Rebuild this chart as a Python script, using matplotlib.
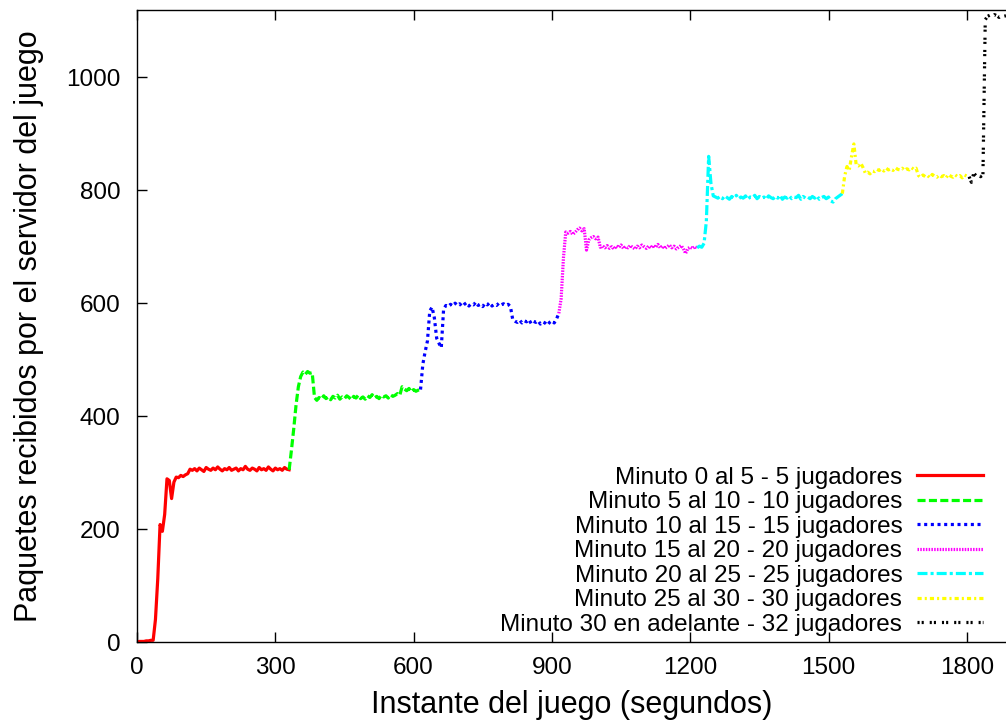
import numpy as np
import matplotlib
matplotlib.use("Agg")
import matplotlib.pyplot as plt

plt.rcParams['font.family'] = ['Liberation Sans', 'DejaVu Sans']
plt.rcParams['lines.scale_dashes'] = False

step = 5  # seconds between samples

# paquetes recibidos, one array per interval (start time, values every 5 s)
start_0_5 = 0
pkts_0_5 = [0, 1, 1, 1, 2, 2, 3, 3, 40, 112,
            208, 196, 226, 289, 286, 254, 283, 292, 291, 295,
            293, 296, 298, 306, 304, 307, 303, 308, 305, 302,
            309, 306, 304, 308, 305, 310, 306, 303, 307, 305,
            309, 304, 306, 308, 303, 307, 305, 311, 306, 304,
            308, 306, 303, 309, 305, 307, 304, 310, 306, 303,
            308, 305, 307, 304, 309, 306, 305]

start_5_10 = 330
pkts_5_10 = [305, 340, 378, 420, 452, 470, 478, 474, 479, 476,
             477, 433, 428, 433, 430, 436, 431, 434, 429, 435,
             432, 437, 430, 434, 431, 436, 433, 429, 435, 432,
             437, 431, 434, 430, 436, 433, 438, 432, 435, 431,
             437, 434, 436, 432, 438, 435, 437, 440, 437, 452,
             448, 445, 449, 443, 447, 444, 446, 447]

start_10_15 = 615
pkts_10_15 = [447, 492, 514, 533, 586, 593, 574, 538, 529, 521,
              589, 596, 594, 598, 595, 600, 596, 599, 594, 598,
              601, 595, 599, 597, 602, 596, 598, 594, 600, 597,
              601, 595, 598, 596, 600, 597, 599, 596, 598, 594,
              571, 568, 566, 570, 565, 569, 567, 571, 564, 568,
              566, 569, 563, 567, 565, 561, 566, 569, 565, 572,
              582]

start_15_20 = 915
pkts_15_20 = [582, 608, 680, 726, 724, 727, 722, 725, 730, 733,
              728, 732, 694, 712, 716, 718, 714, 717, 699, 701,
              698, 702, 697, 700, 696, 701, 699, 703, 697, 700,
              698, 702, 699, 696, 701, 698, 703, 700, 697, 701,
              698, 702, 699, 704, 698, 701, 697, 700, 703, 698,
              701, 696, 699, 702, 697, 688, 697, 699, 697, 700,
              698]

start_20_25 = 1215
pkts_20_25 = [698, 701, 699, 706, 745, 860, 812, 790, 788, 786,
              789, 785, 790, 787, 784, 789, 786, 791, 785, 788,
              786, 790, 784, 788, 787, 791, 785, 789, 786, 788,
              784, 790, 787, 785, 789, 786, 791, 784, 788, 786,
              790, 785, 788, 787, 791, 784, 789, 786, 788, 785,
              789, 786, 790, 784, 787, 789, 785, 788, 781, 779,
              785, 788, 791, 794]

start_25_30 = 1530
pkts_25_30 = [794, 825, 842, 836, 860, 882, 845, 843, 848, 840,
              830, 832, 829, 834, 833, 837, 835, 838, 834, 839,
              836, 838, 835, 840, 837, 836, 839, 835, 838, 836,
              840, 837, 839, 826, 823, 827, 824, 826, 822, 828,
              825, 823, 827, 824, 826, 822, 828, 825, 823, 827,
              824, 826, 822, 827, 825, 824]

start_30 = 1805
pkts_30 = [824, 814, 830, 826, 829, 824, 828, 1102, 1108, 1110,
           1107, 1111, 1109, 1106, 1110, 1108, 1109]

starts = [start_0_5, start_5_10, start_10_15, start_15_20,
          start_20_25, start_25_30, start_30]
series = [pkts_0_5, pkts_5_10, pkts_10_15, pkts_15_20,
          pkts_20_25, pkts_25_30, pkts_30]
labels = ["Minuto 0 al 5 - 5 jugadores",
          "Minuto 5 al 10 - 10 jugadores",
          "Minuto 10 al 15 - 15 jugadores",
          "Minuto 15 al 20 - 20 jugadores",
          "Minuto 20 al 25 - 25 jugadores",
          "Minuto 25 al 30 - 30 jugadores",
          "Minuto 30 en adelante - 32 jugadores"]

colors = ['#ff0000', '#00ff00', '#0000ff', '#ff00ff',
          '#00ffff', '#ffff00', '#000000']
dashes = [None, (5.8, 2.4), (2.2, 2.6), (1.1, 0.9),
          (7.2, 2.2, 2.2, 2.2), (3.0, 2.2, 1.5, 2.2), (1.5, 1.5, 1.5, 4.3)]

fig = plt.figure(figsize=(10.06, 7.22), dpi=100)
ax = fig.add_axes([0.1362, 0.1108, 0.8638, 0.8760])

for s0, vals, lab, col, dsh in zip(starts, series, labels, colors, dashes):
    t = s0 + step * np.arange(len(vals))
    line, = ax.plot(t, vals, color=col, lw=2.3, label=lab)
    if dsh is not None:
        line.set_dashes(dsh)

ax.set_xlim(0, 1885)
ax.set_ylim(0, 1120)
ax.set_xticks([0, 300, 600, 900, 1200, 1500, 1800])
ax.set_yticks([0, 200, 400, 600, 800, 1000])
ax.tick_params(direction='in', length=7, width=1, labelsize=17.5,
               top=True, right=False)
ax.tick_params(axis='x', pad=11)
ax.tick_params(axis='y', pad=12)
for sp in ['left', 'bottom', 'top']:
    ax.spines[sp].set_linewidth(1)
ax.spines['right'].set_visible(False)

ax.set_xlabel("Instante del juego (segundos)", fontsize=22, labelpad=8)
ax.set_ylabel("Paquetes recibidos por el servidor del juego", fontsize=22, labelpad=16)

leg = ax.legend(loc='lower right', bbox_to_anchor=(983 / 1006, (722 - 636) / 722),
                bbox_transform=fig.transFigure, frameon=False, fontsize=17.5,
                markerfirst=False, handlelength=2.7, handletextpad=0.62,
                labelspacing=0.105, borderpad=0, borderaxespad=0)

fig.savefig("out.png", dpi=100)
